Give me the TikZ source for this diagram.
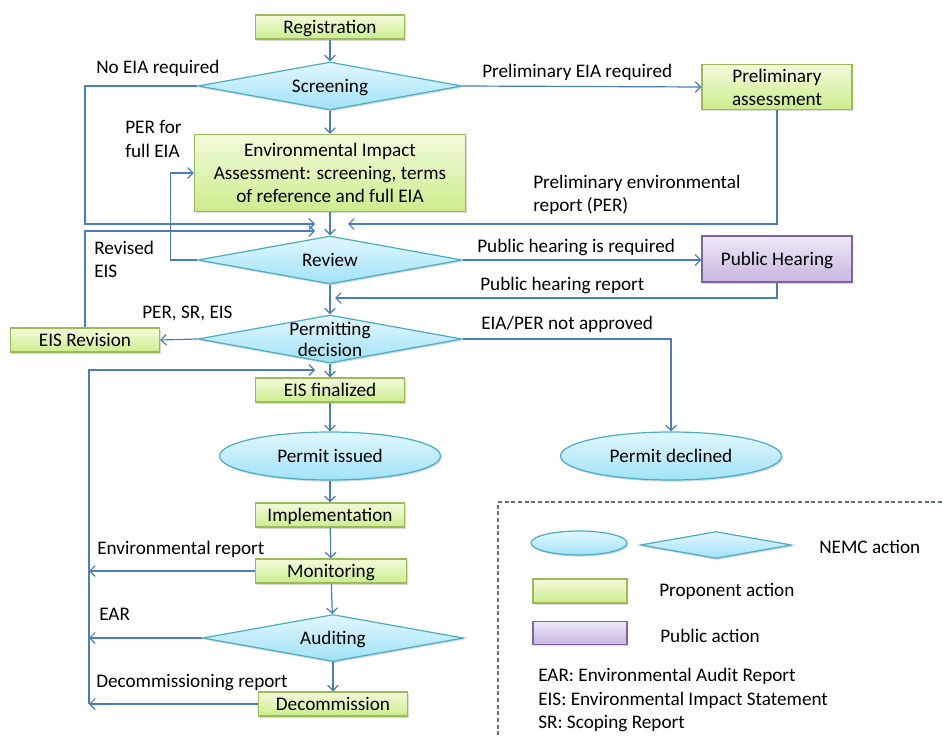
\documentclass[tikz,border=0pt]{standalone}
\usepackage{fontspec}
\setmainfont{Carlito}
\usepackage{tikz}
\usetikzlibrary{shapes.geometric, arrows.meta, shadows}
\usepackage{xcolor}
\definecolor{linkblue}{RGB}{74,126,187}
\definecolor{propline}{RGB}{155,187,89}
\definecolor{proptop}{RGB}{242,251,220}
\definecolor{propbot}{RGB}{204,236,140}
\definecolor{nemcline}{RGB}{75,172,198}
\definecolor{nemctop}{RGB}{226,247,253}
\definecolor{nemcbot}{RGB}{160,226,247}
\definecolor{publine}{RGB}{128,100,162}
\definecolor{pubtop}{RGB}{238,232,246}
\definecolor{pubbot}{RGB}{200,182,224}
\definecolor{legline}{RGB}{96,112,140}

\begin{document}
\begin{tikzpicture}[x=0.75pt, y=-0.75pt, font=\fontsize{14.4}{17.3}\selectfont,
		>={Straight Barb[length=4pt,width=8pt]},
		link/.style={->, draw=linkblue, line width=0.9pt},
		shad/.style={drop shadow={shadow xshift=1pt, shadow yshift=-1.2pt, opacity=0.3}},
		propbox/.style={rectangle, draw=propline, line width=0.9pt, top color=proptop, bottom color=propbot, shad,
			inner sep=1pt, minimum width=111.75pt, minimum height=18pt, align=center, text depth=0pt},
		pubbox/.style={rectangle, draw=publine, line width=0.9pt, top color=pubtop, bottom color=pubbot, shad,
			inner sep=1pt, minimum width=112.5pt, minimum height=34.5pt, align=center, text depth=0pt},
		nemcdia/.style={diamond, draw=nemcline, line width=0.9pt, top color=nemctop, bottom color=nemcbot, shad,
			inner sep=0pt, minimum width=198pt, minimum height=36pt},
		nemcell/.style={ellipse, draw=nemcline, line width=0.9pt, top color=nemctop, bottom color=nemcbot, shad,
			inner sep=0pt, minimum width=165.75pt, minimum height=36pt, text depth=0pt},
		note/.style={anchor=west, align=left, inner sep=0pt}]
		\useasboundingbox (0,0) rectangle (942,738);
		
		% main column
		\node[propbox] (reg) at (330,27) {Registration};
		\node[nemcdia, label={[text depth=0pt]center:Screening}] (scr) at (330,86) {};
		\node[propbox, minimum width=203.25pt, minimum height=57.75pt] (eia) at (330,173)
			{Environmental Impact\\Assessment: screening, terms\\of reference and full EIA};
		\node[nemcdia, label={[text depth=0pt]center:Review}] (rev) at (330,260) {};
		\node[nemcdia, label={[align=center, font=\fontsize{14.4}{15.8}\selectfont]center:Permitting\\decision}] (pdec) at (330,339) {};
		\node[propbox] (fin) at (330,390) {EIS finalized};
		\node[nemcell] (iss) at (330,456) {Permit issued};
		\node[propbox] (impl) at (330,515) {Implementation};
		\node[propbox, minimum width=113.25pt] (mon) at (331,571) {Monitoring};
		\node[nemcdia, minimum width=195.75pt, minimum height=35.25pt, label={[text depth=0pt]center:Auditing}] (aud) at (333,638) {};
		\node[propbox] (dcm) at (333,704) {Decommission};
		
		% side nodes
		\node[propbox, minimum width=112.5pt, minimum height=33.75pt] (pre) at (777,87) {Preliminary\\assessment};
		\node[pubbox] (ph) at (777,259) {Public Hearing};
		\node[propbox] (revs) at (85,340) {EIS Revision};
		\node[nemcell] (decl) at (671,456) {Permit declined};
		
		\coordinate (inA) at (315,224);
		\coordinate (inB) at (315,231);
		\coordinate (inC) at (348,224);
		\coordinate (inD) at (335,298);
		\coordinate (inE) at (315,370);
		\coordinate (back) at (89,704);
		
		% connectors
		\draw[link] (reg) -- (scr);
		\draw[link] (scr) -- (eia);
		\draw[link] (eia) -- (rev);
		\draw[link] (rev) -- (pdec);
		\draw[link] (pdec) -- (fin);
		\draw[link] (fin) -- (iss);
		\draw[link] (iss) -- (impl);
		\draw[link] (impl) -- (mon);
		\draw[link] (mon) -- (aud);
		\draw[link] (aud) -- (dcm);
		
		\draw[link] (scr.west) -| (revs |- inA) -- (inA);
		\draw[link] (revs.north) |- (inB);
		\draw[link] (rev.west) -- ++(-27,0) |- (eia.west);
		\draw[link] (scr.east) -- (pre.west);
		\draw[link] (pre.south) |- (inC);
		\draw[link] (rev.east) -- (ph.west |- rev.east);
		\draw[link] (ph.south) |- (inD);
		\draw[link] (pdec.west) -- (revs.east);
		\draw[link] (pdec.east) -| (decl.north);
		\draw[link] (back) |- (inE);
		\draw[link] (mon.west) -- (mon.west -| back);
		\draw[link] (aud.west) -- (aud.west -| back);
		\draw[link] (dcm.west) -- (back);
		
		% connector labels
		\node[note] (tnoeia) at (96,68) {No EIA required};
		\node[note] (tperfull) at (125,139) {PER for\\full EIA};
		\node[note] (tprereq) at (482,72) {Preliminary EIA required};
		\node[note] (tper) at (533,195) {Preliminary environmental\\report (PER)};
		\node[note] (trevised) at (94,259) {Revised\\EIS};
		\node[note] (tphreq) at (477,247) {Public hearing is required};
		\node[note] (tphrep) at (480,285) {Public hearing report};
		\node[note] (tpersr) at (142,313) {PER, SR, EIS};
		\node[note] (tnotok) at (481,324) {EIA/PER not approved};
		\node[note] (tenvrep) at (97,549) {Environmental report};
		\node[note] (tear) at (99,614) {EAR};
		\node[note] (tdcmrep) at (96,683) {Decommissioning report};
		
		% legend
		\draw[legline, line width=0.8pt, dash pattern=on 3pt off 2pt] (942,502) -- (498,502) -- (498,738);
		\node[nemcell, minimum width=72pt, minimum height=18pt] (lgell) at (579,543) {};
		\node[nemcdia, minimum width=113.25pt, minimum height=20.25pt] (lgdia) at (716,545) {};
		\node[note] (lgnemc) at (819,547) {NEMC action};
		\node[propbox, minimum width=70.5pt] (lgprop) at (580,591) {};
		\node[note] (lgproptext) at (659,591) {Proponent action};
		\node[pubbox, minimum width=70.5pt, minimum height=17.25pt] (lgpub) at (580,633) {};
		\node[note] (lgpubtext) at (660,636) {Public action};
		\node[note] (lgabbr) at (538,700) {EAR: Environmental Audit Report\\EIS: Environmental Impact Statement\\SR: Scoping Report};
\end{tikzpicture}
\end{document}
